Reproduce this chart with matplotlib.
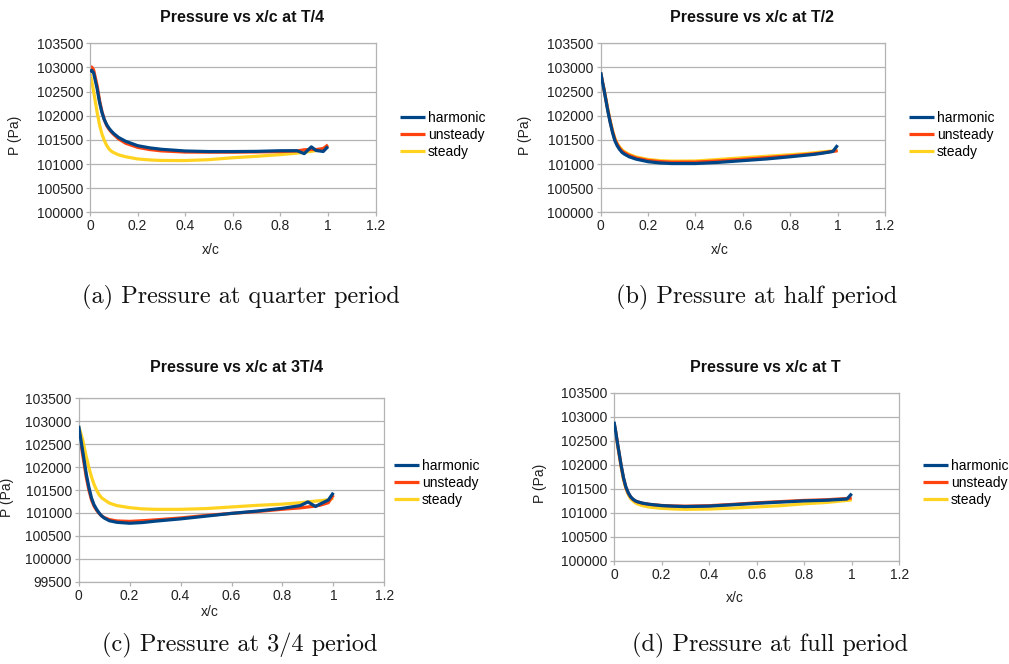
"""Pressure distribution along the chord at four instants of the period."""
import matplotlib.pyplot as plt
from matplotlib.ticker import FuncFormatter

# Chordwise stations (x/c)
x_c = [0, 0.007, 0.015, 0.03, 0.04, 0.05, 0.06, 0.07, 0.08, 0.09, 0.1, 0.12,
       0.15, 0.2, 0.25, 0.3, 0.4, 0.5, 0.6, 0.7, 0.8, 0.87, 0.9, 0.93, 0.95,
       0.98, 1.0]

# (a) T/4
harmonic_t4 = [102910, 102940, 102890, 102560, 102280, 102070, 101920, 101815,
               101740, 101680, 101630, 101550, 101470, 101380, 101335, 101305,
               101270, 101258, 101258, 101262, 101275, 101275, 101215, 101355,
               101280, 101260, 101360]
unsteady_t4 = [102960, 103010, 102950, 102620, 102320, 102090, 101920, 101800,
               101720, 101660, 101610, 101520, 101430, 101345, 101300, 101272,
               101248, 101245, 101245, 101250, 101258, 101270, 101295, 101300,
               101300, 101320, 101395]
steady_t4 = [102880, 102720, 102510, 102070, 101810, 101625, 101490, 101385,
             101310, 101265, 101235, 101190, 101150, 101105, 101085, 101073,
             101072, 101090, 101130, 101160, 101195, 101225, 101245, 101262,
             101280, 101315, 101380]

# (b) T/2
harmonic_t2 = [102900, 102710, 102510, 102100, 101860, 101650, 101480, 101375,
               101300, 101240, 101205, 101150, 101100, 101048, 101022, 101010,
               101010, 101035, 101070, 101105, 101150, 101185, 101200, 101220,
               101235, 101260, 101390]
unsteady_t2 = [102890, 102710, 102520, 102120, 101880, 101675, 101510, 101405,
               101330, 101270, 101235, 101180, 101125, 101075, 101050, 101038,
               101040, 101065, 101098, 101132, 101168, 101198, 101212, 101228,
               101242, 101262, 101275]
steady_t2 = [102870, 102700, 102520, 102130, 101895, 101695, 101530, 101425,
             101350, 101295, 101255, 101200, 101145, 101095, 101070, 101060,
             101063, 101095, 101130, 101160, 101192, 101218, 101232, 101248,
             101258, 101272, 101282]

# (c) 3T/4
harmonic_3t4 = [102900, 102650, 102370, 101840, 101560, 101330, 101180, 101080,
                101000, 100935, 100890, 100830, 100795, 100775, 100790, 100820,
                100870, 100930, 100990, 101040, 101100, 101160, 101240, 101140,
                101200, 101280, 101440]
unsteady_3t4 = [102800, 102560, 102290, 101770, 101500, 101290, 101150, 101060,
                100990, 100935, 100900, 100855, 100825, 100815, 100830, 100848,
                100890, 100945, 100990, 101030, 101080, 101110, 101130, 101150,
                101172, 101222, 101390]
steady_3t4 = [102880, 102760, 102610, 102220, 101990, 101790, 101625, 101500,
              101400, 101330, 101290, 101215, 101160, 101115, 101088, 101078,
              101078, 101095, 101130, 101165, 101192, 101222, 101242, 101258,
              101268, 101288, 101320]

# (d) T
harmonic_t = [102897, 102700, 102440, 101990, 101730, 101540, 101420, 101335,
              101285, 101250, 101230, 101203, 101178, 101152, 101140, 101132,
              101142, 101170, 101200, 101225, 101250, 101260, 101265, 101275,
              101280, 101290, 101400]
unsteady_t = [102880, 102690, 102430, 101980, 101720, 101530, 101410, 101330,
              101280, 101248, 101228, 101200, 101178, 101155, 101145, 101140,
              101150, 101178, 101210, 101235, 101260, 101270, 101275, 101285,
              101290, 101300, 101310]
steady_t = [102860, 102670, 102410, 101960, 101700, 101510, 101385, 101300,
            101250, 101210, 101185, 101150, 101120, 101095, 101082, 101075,
            101080, 101100, 101125, 101150, 101190, 101210, 101220, 101235,
            101245, 101260, 101270]

series_names = ["harmonic", "unsteady", "steady"]
series_colors = ["#004586", "#ff420e", "#ffd320"]

titles = ["Pressure vs x/c at T/4", "Pressure vs x/c at T/2",
          "Pressure vs x/c at 3T/4", "Pressure vs x/c at T"]
captions = ["(a) Pressure at quarter period", "(b) Pressure at half period",
            "(c) Pressure at 3/4 period", "(d) Pressure at full period"]
y_ranges = [(100000, 103500), (100000, 103500), (99500, 103500), (100000, 103500)]

W, H = 1009, 664
GRID = "#b3b3b3"


def px(x, y):
    """Pixel position (from top-left) to figure fraction."""
    return x / W, 1 - y / H


def draw_panel(fig, rect, data, title, caption, yr, layout):
    l, t, r, b = rect
    ax = fig.add_axes([l / W, 1 - b / H, (r - l) / W, (b - t) / H])
    zs = [3, 2, 1]
    for vals, name, col, z in zip(data, series_names, series_colors, zs):
        ax.plot(x_c, vals, color=col, lw=2.3, label=name, zorder=z,
                solid_capstyle="butt", solid_joinstyle="round")
    ax.set_xlim(0, 1.2)
    ax.set_ylim(*yr)
    ax.set_xticks([0, 0.2, 0.4, 0.6, 0.8, 1.0, 1.2])
    ax.set_yticks(range(yr[0], yr[1] + 1, 500))
    ax.xaxis.set_major_formatter(FuncFormatter(lambda v, p: f"{v:g}"))
    ax.yaxis.set_major_formatter(FuncFormatter(lambda v, p: f"{v:.0f}"))
    ax.grid(axis="y", color=GRID, lw=0.9)
    ax.set_axisbelow(True)
    for s in ax.spines.values():
        s.set_color(GRID)
        s.set_linewidth(0.9)
    ax.tick_params(direction="out", length=3, width=0.9, color=GRID,
                   labelsize=10, labelcolor="#222222", pad=2)

    # titles, axis labels, legend and caption
    fig.text(*px(*layout["title"]), title, ha="center", va="center",
             fontsize=11.5, fontweight="bold", color="#111111")
    fig.text(*px(*layout["xlabel"]), "x/c", ha="center", va="center",
             fontsize=10, color="#222222")
    fig.text(*px(*layout["ylabel"]), "P (Pa)", ha="center", va="center",
             rotation=90, fontsize=10, color="#222222")
    ax.legend(loc="center left", bbox_to_anchor=px(*layout["legend"]),
              bbox_transform=fig.transFigure, frameon=False, fontsize=10,
              handlelength=1.8, handletextpad=0.2, labelspacing=0.22,
              borderpad=0, borderaxespad=0)
    fig.text(*px(*layout["caption"]), caption, ha="center", va="center",
             fontsize=17.5, family="cmr10", color="#111111")
    return ax


def main():
    plt.rcParams["font.family"] = ["Liberation Sans", "DejaVu Sans"]
    fig = plt.figure(figsize=(W / 100, H / 100), dpi=100)

    rects = [(90, 43.3, 375.6, 212.3), (600.7, 43.3, 885, 212.3),
             (78.7, 398.3, 384.3, 581.7), (614, 392.7, 899.3, 561)]
    layouts = [
        dict(title=(242, 18), xlabel=(211, 250), ylabel=(15, 135),
             legend=(400, 134.7), caption=(241, 297)),
        dict(title=(752, 18), xlabel=(720, 250), ylabel=(525, 135),
             legend=(909, 134.7), caption=(757, 297)),
        dict(title=(237, 367), xlabel=(210, 612), ylabel=(7, 497),
             legend=(394, 483), caption=(240, 645)),
        dict(title=(765, 367), xlabel=(735, 598), ylabel=(540, 483),
             legend=(923, 483), caption=(770, 645)),
    ]
    datasets = [
        (harmonic_t4, unsteady_t4, steady_t4),
        (harmonic_t2, unsteady_t2, steady_t2),
        (harmonic_3t4, unsteady_3t4, steady_3t4),
        (harmonic_t, unsteady_t, steady_t),
    ]
    for rect, data, title, cap, yr, lay in zip(rects, datasets, titles,
                                              captions, y_ranges, layouts):
        draw_panel(fig, rect, data, title, cap, yr, lay)

    fig.savefig("out.png", dpi=100)


if __name__ == "__main__":
    main()
